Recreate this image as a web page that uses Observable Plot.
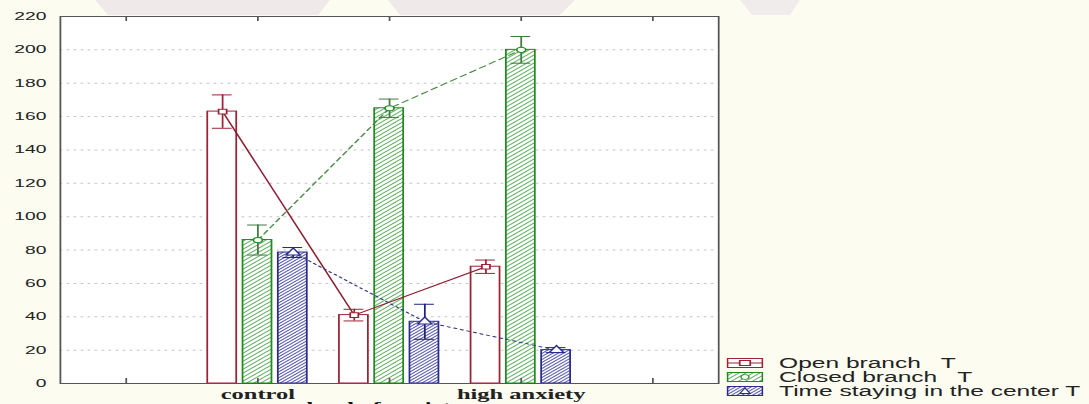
<!DOCTYPE html>
<html><head><meta charset="utf-8">
<script src="https://cdn.jsdelivr.net/npm/d3@7"></script>
<script src="https://cdn.jsdelivr.net/npm/@observablehq/plot@0.6"></script>
<style>
html,body{margin:0;padding:0;background:#fcfcf1;overflow:hidden;width:1089px;height:404px;}
#wm{position:absolute;left:0;top:0;width:1089px;height:15px;}
#wrap{position:absolute;left:0;top:0;width:622px;height:404px;transform:scaleX(1.7508);transform-origin:0 0;}
#legend{position:absolute;left:415px;top:356px;font-family:"Liberation Sans",Arial,sans-serif;font-size:14px;color:#222;}
.row{display:flex;align-items:center;height:14px;white-space:pre;}
.row svg{margin-right:9px;flex:none;}
#xtitle{position:absolute;top:400.5px;left:175px;font-family:"Liberation Serif",serif;font-weight:bold;font-size:14px;white-space:nowrap;color:#111;line-height:14px;}
</style></head><body>
<svg id="wm" width="1089" height="15">
  <path d="M95,0 L330,0 L318,15 L108,15 Z" fill="#efe9e9"/>
  <path d="M388,0 L575,0 L560,15 L400,15 Z" fill="#efe9e9"/>
  <path d="M740,0 L800,0 L790,15 L752,15 Z" fill="#f1ecec"/>
</svg>
<svg width="0" height="0" style="position:absolute">
  <defs>
    <pattern id="hatchG" patternUnits="userSpaceOnUse" width="4" height="4">
      <rect width="4" height="4" fill="white"/>
      <path d="M-1,1 l2,-2 M0,4 l4,-4 M3,5 l2,-2" stroke="#4da34d" stroke-width="0.75"/>
    </pattern>
    <pattern id="hatchB" patternUnits="userSpaceOnUse" width="3" height="3">
      <rect width="3" height="3" fill="white"/>
      <path d="M-1,1 l2,-2 M0,3 l3,-3 M2,4 l2,-2" stroke="#3f3f9e" stroke-width="0.75"/>
    </pattern>
  </defs>
</svg>
<div id="wrap"></div>
<script>
// ---- data ----
const tickPositions = [0, 1, 2, 3, 4];
const tickLabels = ["", "control", "", "high anxiety", ""];
const groupIndex = [1, 2, 3];
const seriesNames = ["Open branch   T", "Closed branch   T", "Time staying in the center T"];
const openMean = [163, 41, 70];
const openErr = [10, 3.5, 4];
const closedMean = [86, 165, 200];
const closedErr = [9, 5.5, 8];
const centerMean = [78.5, 37, 20];
const centerErr = [3, 10.5, 1.5];
const yTicks = [0, 20, 40, 60, 80, 100, 120, 140, 160, 180, 200, 220];
const gridTicks = [20, 40, 60, 80, 100, 120, 140, 160, 180, 200];

// ---- styles ----
const offsets = [-0.268, 0, 0.268];
const halfW = 0.11, capW = 0.075;
const strokes = ["#9b2335", "#1f8a1f", "#2b2b8f"];
const errStrokes = ["#9b2335", "#3f7a3f", "#1f1f80"];
const fills = ["white", "url(#hatchG)", "url(#hatchB)"];
const lineStrokes = ["#8e2032", "#4a8a4a", "#34387a"];
const dashes = [null, "4,3", "1.5,2.5"];
const symbols = ["square", "circle", "triangle"];
const symR = [2.6, 2.6, 3];

const means = [openMean, closedMean, centerMean];
const errs = [openErr, closedErr, centerErr];
const bySeries = means.map((m, s) => groupIndex.map((g, i) => ({s, g, x: g + offsets[s], mean: m[i], err: errs[s][i]})));

const marks = [
  Plot.frame({fill: "white", stroke: null}),
  Plot.ruleY(gridTicks, {stroke: "#c4c4c4", strokeDasharray: "1.5,2.5", strokeWidth: 1}),
];
bySeries.forEach((rows, s) => {
  marks.push(Plot.rectY(rows, {x1: d => d.x - halfW, x2: d => d.x + halfW, y1: 0, y2: "mean", fill: fills[s], stroke: strokes[s], strokeWidth: 1}));
});
bySeries.forEach((rows, s) => {
  marks.push(Plot.line(rows, {x: "x", y: "mean", stroke: lineStrokes[s], strokeWidth: 1, strokeDasharray: dashes[s]}));
});
bySeries.forEach((rows, s) => {
  marks.push(Plot.ruleX(rows, {x: "x", y1: d => d.mean - d.err, y2: d => d.mean + d.err, stroke: errStrokes[s], strokeWidth: 1}));
  marks.push(Plot.ruleY(rows, {y: d => d.mean + d.err, x1: d => d.x - capW, x2: d => d.x + capW, stroke: errStrokes[s], strokeWidth: 1}));
  marks.push(Plot.ruleY(rows, {y: d => d.mean - d.err, x1: d => d.x - capW, x2: d => d.x + capW, stroke: errStrokes[s], strokeWidth: 1}));
  marks.push(Plot.dot(rows, {x: "x", y: "mean", symbol: symbols[s], r: symR[s], fill: "white", stroke: strokes[s], strokeWidth: 1}));
});
marks.push(
  Plot.ruleX(tickPositions, {x: d => d, y1: 0, y2: 3, stroke: "#555"}),
  Plot.ruleX(tickPositions, {x: d => d, y1: 220, y2: 217, stroke: "#555"}),
  Plot.axisY({ticks: yTicks, tickSize: 0, tickPadding: 8, fontSize: 11, label: null}),
  Plot.axisX({ticks: tickPositions, tickFormat: i => tickLabels[i], tickSize: 0, tickPadding: 6, fontSize: 14, fontWeight: "bold", fontFamily: "Liberation Serif", label: null}),
  Plot.frame({stroke: "#555", strokeWidth: 1})
);

const chart = Plot.plot({
  width: 622, height: 404,
  marginLeft: 34, marginRight: 212, marginTop: 16, marginBottom: 21,
  style: {background: "transparent", fontFamily: "Liberation Sans, Arial, sans-serif", color: "#222", overflow: "visible"},
  x: {type: "linear", domain: [-0.5, 4.5]},
  y: {domain: [0, 220]},
  marks
});
document.getElementById("wrap").appendChild(chart);

// legend
const legend = document.createElement("div");
legend.id = "legend";
seriesNames.forEach((name, s) => {
  const row = document.createElement("div");
  row.className = "row";
  let inner = `<rect x="0.5" y="0.5" width="20" height="9" fill="${fills[s]}" stroke="${strokes[s]}"/>`;
  if (s === 0) inner += `<line x1="0.5" y1="5" x2="20.5" y2="5" stroke="${strokes[s]}"/><rect x="7.5" y="2.5" width="6" height="5" fill="white" stroke="${strokes[s]}"/>`;
  if (s === 1) inner += `<circle cx="10.5" cy="5" r="2.3" fill="white" stroke="${strokes[s]}" stroke-width="0.8"/>`;
  if (s === 2) inner += `<path d="M10.5,2 L13.5,7.5 L7.5,7.5 Z" fill="white" stroke="${strokes[s]}" stroke-width="0.8"/>`;
  row.innerHTML = `<svg width="21" height="10">${inner}</svg><span>${name}</span>`;
  legend.appendChild(row);
});
document.getElementById("wrap").appendChild(legend);

const xt = document.createElement("div");
xt.id = "xtitle";
xt.textContent = "level of anxiety";
document.getElementById("wrap").appendChild(xt);
</script>
</body></html>
